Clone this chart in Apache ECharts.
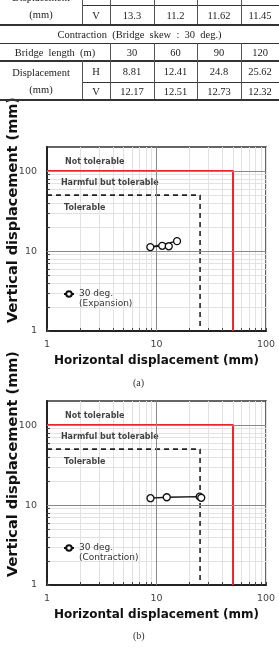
<!DOCTYPE html>
<html>
<head>
<meta charset="utf-8">
<script src="https://cdn.jsdelivr.net/npm/echarts@6/dist/echarts.min.js"></script>
<style>
  html, body { margin: 0; padding: 0; background: #fff; }
  #wrap { position: relative; width: 279px; height: 649px; overflow: hidden; }
  #chart { position: absolute; left: 0; top: 0; width: 279px; height: 649px; }
  #table { position: absolute; left: 0; top: 0; width: 279px; height: 110px; font-family: 'Liberation Serif', 'DejaVu Serif', serif; font-size: 10.5px; color: #222; }
  .cell { position: absolute; display: flex; align-items: center; justify-content: center; text-align: center; line-height: 17px; white-space: pre; }
  .hl { position: absolute; background: #333; }
</style>
</head>
<body>
<div id="wrap">
  <div id="chart"></div>
  <div id="table"></div>
</div>
<script>
// table / chart data
const bridgeLengths = [30, 60, 90, 120]
const expansionH = [15.4, 8.78, 11.28, 12.95]
const expansionV = [13.3, 11.2, 11.62, 11.45]
const contractionH = [8.81, 12.41, 24.8, 25.62]
const contractionV = [12.17, 12.51, 12.73, 12.32]

// limit lines (mm)
const notTolerableLimit = [[1, 100], [50, 100], [50, 1]]
const tolerableLimit = [[1, 50], [25, 50], [25, 1]]
const zoneNames = ['Not tolerable', 'Harmful but tolerable', 'Tolerable']
const zoneAnchors = [[1.46, 130], [1.34, 71], [1.43, 34.5]]

const legendNames = ['30 deg.\n(Expansion)', '30 deg.\n(Contraction)']
const captions = ['(a)', '(b)']
const majorLabels = [1, 10, 100]
const logTicks = [1, 2, 3, 4, 5, 6, 7, 8, 9, 10, 20, 30, 40, 50, 60, 70, 80, 90, 100]

// ---- table (top, partly cut off) ----
const table = document.getElementById('table')
const colX = [0, 82, 110, 154, 197, 241, 279]
function cell (text, c0, c1, y0, y1) {
  const d = document.createElement('div')
  d.className = 'cell'
  d.style.left = colX[c0] + 'px'
  d.style.width = (colX[c1] - colX[c0]) + 'px'
  d.style.top = y0 + 'px'
  d.style.height = (y1 - y0) + 'px'
  d.textContent = text
  table.appendChild(d)
}
function hline (x0, x1, y, w) {
  const d = document.createElement('div')
  d.className = 'hl'
  d.style.left = x0 + 'px'
  d.style.width = (x1 - x0) + 'px'
  d.style.top = y + 'px'
  d.style.height = w + 'px'
  table.appendChild(d)
}
function vline (x, y0, y1) {
  const d = document.createElement('div')
  d.className = 'hl'
  d.style.left = x + 'px'
  d.style.width = '1px'
  d.style.top = y0 + 'px'
  d.style.height = (y1 - y0) + 'px'
  d.style.background = '#555'
  table.appendChild(d)
}
const rowY = [-13, 5, 25, 43, 61, 82, 100]
cell('Displacement\n(mm)', 0, 1, rowY[0], rowY[2])
cell('H', 1, 2, rowY[0], rowY[1])
cell('V', 1, 2, rowY[1], rowY[2])
bridgeLengths.forEach((b, i) => {
  cell(String(expansionH[i]), i + 2, i + 3, rowY[0], rowY[1])
  cell(String(expansionV[i]), i + 2, i + 3, rowY[1], rowY[2])
  cell(String(b), i + 2, i + 3, rowY[3], rowY[4])
  cell(String(contractionH[i]), i + 2, i + 3, rowY[4], rowY[5])
  cell(String(contractionV[i]), i + 2, i + 3, rowY[5], rowY[6])
})
cell('Contraction  (Bridge  skew  :  30  deg.)', 0, 6, rowY[2], rowY[3])
cell('Bridge  length  (m)', 0, 2, rowY[3], rowY[4])
cell('Displacement\n(mm)', 0, 1, rowY[4], rowY[6])
cell('H', 1, 2, rowY[4], rowY[5])
cell('V', 1, 2, rowY[5], rowY[6])
hline(82, 279, 5, 1)
hline(0, 279, 24, 2)
hline(0, 279, 43, 1)
hline(0, 279, 60, 2)
hline(82, 279, 82, 1)
hline(0, 279, 99, 2)
colX.slice(1, 6).forEach(x => vline(x, -13, 24))
colX.slice(2, 6).forEach(x => vline(x, 43, 99))
vline(82, 61, 99)

// ---- charts ----
const sans = "'DejaVu Sans', sans-serif"
const gridTops = [147, 401]
const pointSets = [
  expansionH.map((h, i) => [h, expansionV[i]]),
  contractionH.map((h, i) => [h, contractionV[i]])
]

const grids = []
const xAxes = []
const yAxes = []
const legends = []
const series = []
const graphics = []

gridTops.forEach((top, i) => {
  grids.push({
    left: 47, top: top, width: 219, height: 184,
    outerBoundsMode: 'none', containLabel: false,
    show: true, borderColor: '#333', borderWidth: 1.5, backgroundColor: 'transparent'
  })
  xAxes.push({
    type: 'log', logBase: 10, min: 1, max: 100, gridIndex: i,
    name: 'Horizontal displacement (mm)',
    nameLocation: 'middle', nameGap: 24,
    nameTextStyle: { fontFamily: sans, fontWeight: 'bold', fontSize: 12, color: '#111' },
    axisLine: { show: true, lineStyle: { color: '#222', width: 2 } },
    axisTick: { show: true, inside: true, length: 3, customValues: logTicks, lineStyle: { color: '#444' } },
    axisLabel: { customValues: majorLabels, fontFamily: sans, fontSize: 9.5, color: '#444', margin: 9 },
    splitLine: { show: true, lineStyle: { color: '#e2e2e2', width: 1 } },
    minorTick: { show: false }
  })
  yAxes.push({
    type: 'log', logBase: 10, min: 1, max: 200, gridIndex: i,
    name: 'Vertical displacement (mm)',
    nameLocation: 'middle', nameGap: 26, nameMoveOverlap: false,
    nameTextStyle: { fontFamily: sans, fontWeight: 'bold', fontSize: 14.5, color: '#111', padding: [0, 0, 0, 58] },
    axisLine: { show: true, lineStyle: { color: '#222', width: 2 } },
    axisTick: { show: true, inside: true, length: 3, customValues: logTicks, lineStyle: { color: '#444' } },
    axisLabel: { customValues: majorLabels, fontFamily: sans, fontSize: 9.5, color: '#444', margin: 10 },
    splitLine: { show: true, lineStyle: { color: '#e2e2e2', width: 1 } },
    minorTick: { show: false }
  })
  // decade grid lines
  series.push({
    type: 'line', xAxisIndex: i, yAxisIndex: i, data: [], silent: true, z: 1,
    markLine: {
      silent: true, symbol: 'none', animation: false,
      label: { show: false },
      lineStyle: { color: '#8a8a8a', width: 1, type: 'solid' },
      data: [{ xAxis: 10 }, { yAxis: 10 }, { yAxis: 100 }]
    }
  })
  series.push({
    type: 'line', xAxisIndex: i, yAxisIndex: i, data: notTolerableLimit,
    symbol: 'none', silent: true, z: 3,
    lineStyle: { color: '#e8262a', width: 2 }
  })
  series.push({
    type: 'line', xAxisIndex: i, yAxisIndex: i, data: tolerableLimit,
    symbol: 'none', silent: true, z: 3,
    lineStyle: { color: '#222', width: 1.6, type: [5, 4] }
  })
  series.push({
    type: 'scatter', xAxisIndex: i, yAxisIndex: i, symbolSize: 1, silent: true, z: 4,
    itemStyle: { color: 'rgba(0,0,0,0)' },
    data: zoneNames.map((n, k) => ({ name: n, value: zoneAnchors[k] })),
    label: {
      show: true, position: 'inside', align: 'left', verticalAlign: 'middle', formatter: '{b}',
      fontFamily: sans, fontWeight: 'bold', fontSize: 8, color: '#111'
    }
  })
  series.push({
    name: legendNames[i], type: 'line', xAxisIndex: i, yAxisIndex: i,
    data: pointSets[i], z: 5,
    symbol: 'circle', symbolSize: 7,
    itemStyle: { color: '#fff', borderColor: '#111', borderWidth: 1.3 },
    lineStyle: { color: '#111', width: 1.3 }
  })
  legends.push({
    data: [legendNames[i]], left: 63, top: top + 132, padding: 0,
    itemWidth: 10, itemHeight: 7, itemGap: 4,
    formatter: name => '\n' + name,
    textStyle: { fontFamily: sans, fontSize: 9, color: '#333', lineHeight: 10 }
  })
  graphics.push({
    type: 'text', left: 133, top: top + (i === 0 ? 231 : 230),
    style: { text: captions[i], fontFamily: "'Liberation Serif', serif", fontSize: 10, fill: '#333' }
  })
})

const chart = echarts.init(document.getElementById('chart'))
chart.setOption({
  animation: false,
  backgroundColor: '#fff',
  grid: grids,
  xAxis: xAxes,
  yAxis: yAxes,
  legend: legends,
  series: series,
  graphic: graphics
})
</script>
</body>
</html>
